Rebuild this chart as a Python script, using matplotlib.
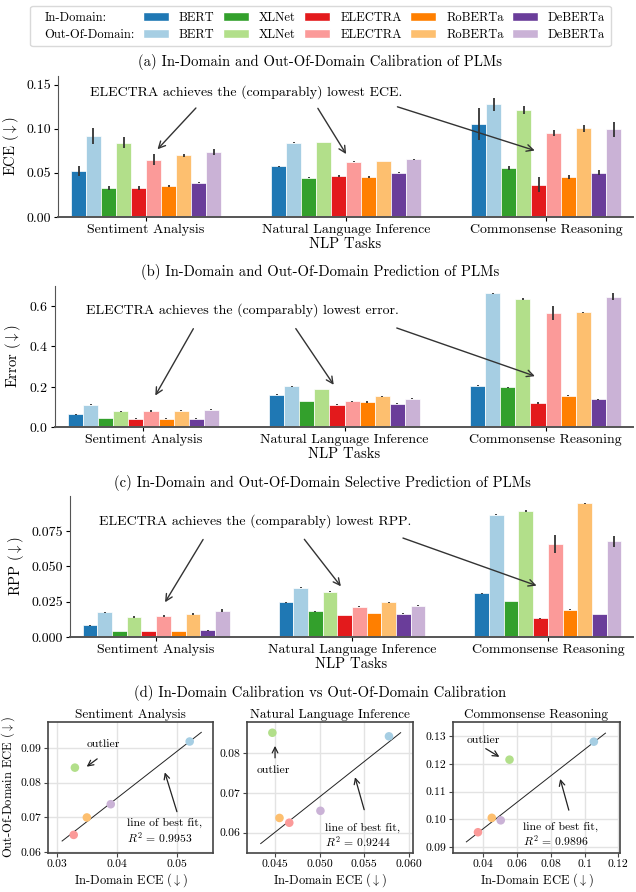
import numpy as np
import matplotlib
matplotlib.use('Agg')
import matplotlib.pyplot as plt
from matplotlib.patches import Patch

plt.rcParams['font.family'] = 'serif'
plt.rcParams['font.serif'] = ['cmr10', 'DejaVu Serif']
plt.rcParams['mathtext.fontset'] = 'cm'
plt.rcParams['axes.unicode_minus'] = False
plt.rcParams['axes.formatter.use_mathtext'] = True
plt.rcParams['font.size'] = 10

# Data (rows: models, cols: tasks)
models = ['BERT', 'XLNet', 'ELECTRA', 'RoBERTa', 'DeBERTa']
tasks = ['Sentiment Analysis', 'Natural Language Inference', 'Commonsense Reasoning']
r2_labels = ['0.9953', '0.9244', '0.9896']

ece_in = [[0.0522, 0.0578, 0.1055], [0.0330, 0.0447, 0.0555], [0.0328, 0.0466, 0.0368],
          [0.0350, 0.0455, 0.0450], [0.0390, 0.0501, 0.0503]]
ece_ood = [[0.0918, 0.0842, 0.1280], [0.0843, 0.0851, 0.1215], [0.0650, 0.0625, 0.0953],
           [0.0700, 0.0637, 0.1005], [0.0738, 0.0655, 0.0996]]
ece_in_err = [[0.0059, 0.0005, 0.0177], [0.0023, 0.0008, 0.0019], [0.0025, 0.0008, 0.0086],
              [0.0011, 0.0010, 0.0021], [0.0004, 0.0006, 0.0030]]
ece_ood_err = [[0.0092, 0.0006, 0.0076], [0.0061, 0.0005, 0.0050], [0.0060, 0.0006, 0.0029],
               [0.0020, 0.0004, 0.0044], [0.0034, 0.0005, 0.0086]]

err_in = [[0.064, 0.161, 0.206], [0.045, 0.129, 0.197], [0.041, 0.111, 0.119],
          [0.041, 0.124, 0.156], [0.042, 0.116, 0.138]]
err_ood = [[0.111, 0.202, 0.663], [0.078, 0.189, 0.635], [0.078, 0.128, 0.567],
           [0.080, 0.153, 0.570], [0.086, 0.141, 0.647]]
err_in_err = [[0.002, 0.002, 0.002], [0.002, 0.002, 0.002], [0.002, 0.002, 0.003],
              [0.002, 0.003, 0.002], [0.001, 0.002, 0.002]]
err_ood_err = [[0.002, 0.002, 0.002], [0.003, 0.002, 0.004], [0.004, 0.002, 0.035],
               [0.003, 0.002, 0.003], [0.002, 0.002, 0.018]]

rpp_in = [[0.0083, 0.0246, 0.0308], [0.0043, 0.0182, 0.0256], [0.0043, 0.0156, 0.0132],
          [0.0043, 0.0170, 0.0194], [0.0047, 0.0166, 0.0163]]
rpp_ood = [[0.0175, 0.0350, 0.0866], [0.0142, 0.0319, 0.0894], [0.0147, 0.0215, 0.0658],
           [0.0161, 0.0246, 0.0946], [0.0185, 0.0222, 0.0677]]
rpp_in_err = [[0.0004, 0.0003, 0.0003], [0.0002, 0.0003, 0.0002], [0.0002, 0.0002, 0.0003],
              [0.0002, 0.0002, 0.0003], [0.0003, 0.0002, 0.0002]]
rpp_ood_err = [[0.0004, 0.0003, 0.0006], [0.0007, 0.0004, 0.0006], [0.0006, 0.0003, 0.0063],
               [0.0008, 0.0003, 0.0004], [0.0010, 0.0003, 0.0038]]

in_colors = ['#1f78b4', '#33a02c', '#e31a1c', '#ff7f00', '#6a3d9a']
ood_colors = ['#a6cee3', '#b2df8a', '#fb9a99', '#fdbf6f', '#cab2d6']

W, H = 636, 892
fig = plt.figure(figsize=(W / 100, H / 100), dpi=100)


def px_axes(left, right, top, bottom):
    return fig.add_axes([left / W, 1 - bottom / H, (right - left) / W, (bottom - top) / H])


def bar_panel(ax, vin, vood, ein, eood, ylabel, ylim, yticks, note, arrows, note_xy):
    bw = 0.075
    x = np.arange(len(tasks))
    vin, vood, ein, eood = map(np.array, (vin, vood, ein, eood))
    for m in range(len(models)):
        ax.bar(x + (2 * m - 4.5) * bw, vin[m], bw, yerr=ein[m], color=in_colors[m],
               edgecolor='white', linewidth=0.5, error_kw=dict(ecolor='#333333', elinewidth=1.3, capsize=0))
        ax.bar(x + (2 * m + 1 - 4.5) * bw, vood[m], bw, yerr=eood[m], color=ood_colors[m],
               edgecolor='white', linewidth=0.5, error_kw=dict(ecolor='#333333', elinewidth=1.3, capsize=0))
    ax.set_xlim(-0.44, 2.435)
    ax.set_ylim(*ylim)
    ax.set_yticks(yticks)
    ax.set_xticks(x)
    ax.set_xticklabels(tasks)
    ax.set_xlabel('NLP Tasks', labelpad=1, fontsize=10.5)
    ax.set_ylabel(ylabel, fontsize=10.5)
    for s in ['top', 'right']:
        ax.spines[s].set_visible(False)
    ax.spines['left'].set_color('#555555')
    ax.spines['left'].set_linewidth(0.8)
    ax.spines['bottom'].set_color('#555555')
    ax.spines['bottom'].set_linewidth(1.4)
    ax.tick_params(axis='x', length=3, pad=2)
    ax.tick_params(axis='y', length=3, pad=2)
    ax.text(note_xy[0], note_xy[1], note, ha='center', va='center', fontsize=10)
    for tail, head in arrows:
        ax.annotate('', xy=head, xytext=tail,
                    arrowprops=dict(arrowstyle='->', color='#333333', lw=1.0, mutation_scale=12))


# Legend
handles = [Patch(color='none'), Patch(color='none')]
labels = ['In-Domain:', 'Out-Of-Domain:']
for m in range(len(models)):
    handles += [Patch(facecolor=in_colors[m], edgecolor='white'), Patch(facecolor=ood_colors[m], edgecolor='white')]
    labels += [models[m], models[m]]
leg = fig.legend(handles, labels, ncol=6, loc='center', bbox_to_anchor=(320.5 / W, 1 - 26 / H),
                 fontsize=9, frameon=True, edgecolor='#d0d0d0', fancybox=True,
                 handlelength=2.1, handletextpad=0.8, columnspacing=0.65, labelspacing=0.38,
                 borderpad=0.45)
try:
    first_col = leg._legend_handle_box.get_children()[0]
    for item in first_col.get_children():
        item.get_children()[0].width = 0
        item.sep = 6
except Exception:
    pass

# Titles
fig.text(320 / W, 1 - 62 / H, '(a) In-Domain and Out-Of-Domain Calibration of PLMs', ha='center', va='center', fontsize=10.5)
fig.text(320 / W, 1 - 272 / H, '(b) In-Domain and Out-Of-Domain Prediction of PLMs', ha='center', va='center', fontsize=10.5)
fig.text(322 / W, 1 - 483 / H, '(c) In-Domain and Out-Of-Domain Selective Prediction of PLMs', ha='center', va='center', fontsize=10.5)
fig.text(320 / W, 1 - 693 / H, '(d) In-Domain Calibration vs Out-Of-Domain Calibration', ha='center', va='center', fontsize=10.5)

# (a)
ax_a = px_axes(58, 633, 76, 217)
bar_panel(ax_a, ece_in, ece_ood, ece_in_err, ece_ood_err, r'ECE ($\downarrow$)', (0, 0.16),
          [0, 0.05, 0.10, 0.15], 'ELECTRA achieves the (comparably) lowest ECE.',
          [((0.259, 0.126), (0.048, 0.0745)), ((0.852, 0.126), (1.008, 0.0687)),
           ((1.244, 0.126), (1.957, 0.0745))], (0.5, 0.142))
ax_a.set_yticklabels(['0.00', '0.05', '0.10', '0.15'])

# (b)
ax_b = px_axes(55, 633, 286, 427)
bar_panel(ax_b, err_in, err_ood, err_in_err, err_ood_err, r'Error ($\downarrow$)', (0, 0.70),
          [0, 0.2, 0.4, 0.6], 'ELECTRA achieves the (comparably) lowest error.',
          [((0.255, 0.50), (0.052, 0.144)), ((0.75, 0.50), (0.954, 0.198)),
           ((1.247, 0.496), (1.96, 0.248))], (0.49, 0.58))

# (c)
ax_c = px_axes(70, 633, 496, 637)
bar_panel(ax_c, rpp_in, rpp_ood, rpp_in_err, rpp_ood_err, r'RPP ($\downarrow$)', (0, 0.0998),
          [0, 0.025, 0.05, 0.075], 'ELECTRA achieves the (comparably) lowest RPP.',
          [((0.247, 0.0707), (0.038, 0.0229)), ((0.748, 0.0707), (0.952, 0.0343)),
           ((1.247, 0.0707), (1.956, 0.0357))], (0.505, 0.0821))
ax_c.set_yticklabels(['0.000', '0.025', '0.050', '0.075'])

# (d) scatter panels
sc_boxes = [(48, 213), (247, 413), (453, 620)]
sc_xlim = [(0.0285, 0.0561), (0.04185, 0.0605), (0.022, 0.121)]
sc_ylim = [(0.0598, 0.0974), (0.0549, 0.0878), (0.0878, 0.1351)]
sc_xticks = [[0.03, 0.04, 0.05], [0.045, 0.050, 0.055, 0.060], [0.04, 0.06, 0.08, 0.10, 0.12]]
sc_yticks = [[0.06, 0.07, 0.08, 0.09], [0.06, 0.07, 0.08], [0.09, 0.10, 0.11, 0.12, 0.13]]
outlier_txt = [(0.0378, 0.0909), (0.0448, 0.0758), (0.040, 0.1285)]
outlier_arr = [((0.0371, 0.0873), (0.0346, 0.0841)), ((0.045, 0.0781), (0.045, 0.0825)),
               ((0.040, 0.126), (0.0509, 0.122))]
fit_txt = [(0.0417, 0.066), (0.0506, 0.0593), (0.0634, 0.0943)]
fit_arr = [((0.0502, 0.0709), (0.0479, 0.0837)), ((0.0551, 0.0651), (0.0539, 0.0746)),
           ((0.0911, 0.1023), (0.0851, 0.1155))]

xin = np.array(ece_in)
xood = np.array(ece_ood)
outlier = 1  # XLNet
for t in range(3):
    ax = px_axes(sc_boxes[t][0], sc_boxes[t][1], 722, 853)
    xs, ys = xin[:, t], xood[:, t]
    keep = [m for m in range(len(models)) if m != outlier]
    k, b = np.polyfit(xs[keep], ys[keep], 1)
    span = xs.max() - xs.min()
    lx = np.array([xs.min() - 0.1 * span, xs.max() + 0.1 * span])
    ax.grid(True, color='#e3e3e3', linewidth=1.0, zorder=0)
    ax.set_axisbelow(True)
    ax.plot(lx, k * lx + b, color='#222222', linewidth=0.7, zorder=2)
    ax.scatter(xs, ys, s=38, c=ood_colors, edgecolors='none', zorder=3)
    ax.set_xlim(*sc_xlim[t])
    ax.set_ylim(*sc_ylim[t])
    ax.set_xticks(sc_xticks[t])
    ax.set_yticks(sc_yticks[t])
    ax.set_xticklabels(['%g' % v if t != 1 else '%.3f' % v for v in sc_xticks[t]])
    ax.set_yticklabels(['%.2f' % v for v in sc_yticks[t]])
    ax.tick_params(labelsize=8.4, length=3, pad=2, color='#444444')
    for s in ax.spines.values():
        s.set_color('#444444')
        s.set_linewidth(1.2)
    ax.set_title(tasks[t], fontsize=9.5, pad=3)
    ax.set_xlabel(r'In-Domain ECE ($\downarrow$)', fontsize=9, labelpad=1.5)
    if t == 0:
        ax.set_ylabel(r'Out-Of-Domain ECE ($\downarrow$)', fontsize=9, labelpad=2)
    ax.text(outlier_txt[t][0], outlier_txt[t][1], 'outlier', ha='center', va='center', fontsize=8.4)
    ax.annotate('', xy=outlier_arr[t][1], xytext=outlier_arr[t][0],
                arrowprops=dict(arrowstyle='->', color='#222222', lw=0.9, mutation_scale=10))
    ax.text(fit_txt[t][0], fit_txt[t][1], 'line of best fit,\n$R^2$ = ' + r2_labels[t],
            ha='left', va='center', fontsize=8.4, linespacing=1.1)
    ax.annotate('', xy=fit_arr[t][1], xytext=fit_arr[t][0],
                arrowprops=dict(arrowstyle='->', color='#222222', lw=0.9, mutation_scale=10))

fig.savefig('out.png', dpi=100)
